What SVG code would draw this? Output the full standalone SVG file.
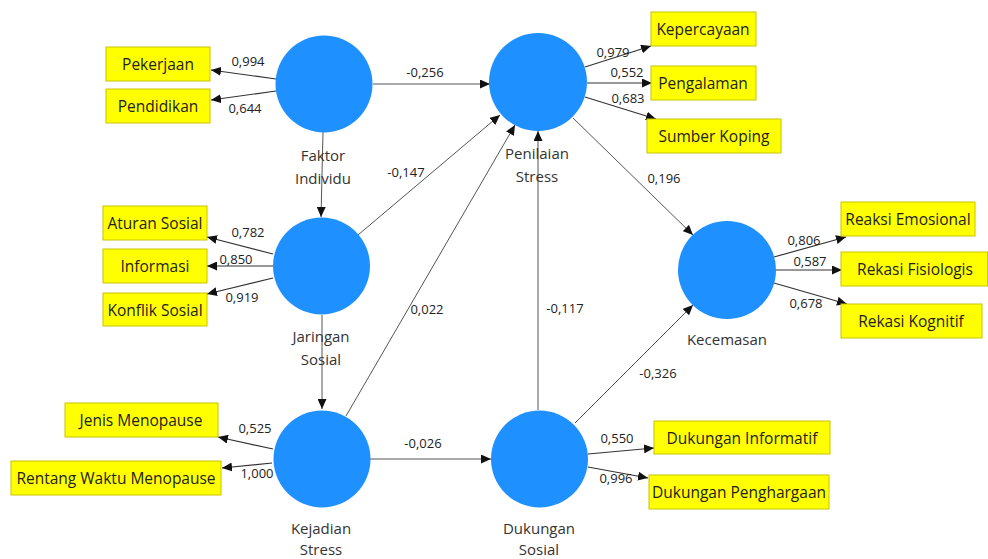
<svg xmlns="http://www.w3.org/2000/svg" width="988" height="559" viewBox="0 0 988 559">
  <style>
    .lv { fill: #1e90ff; }
    .ind rect { fill: #ffff00; stroke: #c8c400; stroke-width: 1; }
    .ind text { font-family: "Open Sans", "Noto Sans", sans-serif; font-size: 15.5px; fill: #222; text-anchor: middle; }
    .name { font-family: "Open Sans", "Noto Sans", sans-serif; font-size: 15px; fill: #333; text-anchor: middle; }
    .coef { font-family: "Open Sans", "Noto Sans", sans-serif; font-size: 13px; fill: #222; text-anchor: middle; }
    .path { stroke: #555; stroke-width: 1; fill: none; marker-end: url(#arr); }
    .load { stroke: #333; stroke-width: 1.2; fill: none; marker-end: url(#arr); }
  </style>
  <defs>
    <marker id="arr" markerUnits="userSpaceOnUse" markerWidth="11" markerHeight="9" refX="10" refY="4.5" orient="auto">
      <path d="M0,0 L10,4.5 L0,9 z" fill="#111"/>
    </marker>
  </defs>
  <rect width="988" height="559" fill="#ffffff"/>

  <!-- connectors -->
  <g id="connectors">
    <!-- inner model -->
    <line class="path" x1="373" y1="84" x2="490" y2="84"/>
    <line class="path" x1="323" y1="132" x2="321" y2="217"/>
    <line class="path" x1="358" y1="235" x2="500" y2="115"/>
    <line class="path" x1="322" y1="315" x2="322" y2="409"/>
    <line class="path" x1="346" y1="416" x2="515" y2="125"/>
    <line class="path" x1="370" y1="459" x2="491" y2="459"/>
    <line class="path" x1="538" y1="410" x2="538" y2="131"/>
    <line class="path" x1="573" y1="118" x2="693" y2="235"/>
    <line class="path" x1="575" y1="423" x2="693" y2="305"/>
    <!-- outer model -->
    <line class="load" x1="276" y1="79" x2="211" y2="70"/>
    <line class="load" x1="276" y1="91" x2="211" y2="100"/>
    <line class="load" x1="585" y1="67" x2="651" y2="46"/>
    <line class="load" x1="587" y1="83" x2="652" y2="83"/>
    <line class="load" x1="585" y1="97" x2="656" y2="119"/>
    <line class="load" x1="273" y1="254" x2="207" y2="237"/>
    <line class="load" x1="273" y1="266" x2="207" y2="266"/>
    <line class="load" x1="273" y1="278" x2="207" y2="294"/>
    <line class="load" x1="774" y1="257" x2="846" y2="237"/>
    <line class="load" x1="776" y1="270" x2="842" y2="270"/>
    <line class="load" x1="774" y1="283" x2="847" y2="304"/>
    <line class="load" x1="273" y1="449" x2="218" y2="437"/>
    <line class="load" x1="272" y1="463" x2="222" y2="468"/>
    <line class="load" x1="588" y1="454" x2="654" y2="448"/>
    <line class="load" x1="588" y1="467" x2="648" y2="478"/>

    <!-- coefficients -->
    <text class="coef" x="425" y="77">-0,256</text>
    <text class="coef" x="406" y="177">-0,147</text>
    <text class="coef" x="427" y="314">0,022</text>
    <text class="coef" x="664" y="183">0,196</text>
    <text class="coef" x="565" y="313">-0,117</text>
    <text class="coef" x="658" y="378">-0,326</text>
    <text class="coef" x="423" y="448">-0,026</text>

    <text class="coef" x="248" y="66">0,994</text>
    <text class="coef" x="245" y="113">0,644</text>
    <text class="coef" x="613" y="57">0,979</text>
    <text class="coef" x="627" y="77">0,552</text>
    <text class="coef" x="628" y="103">0,683</text>
    <text class="coef" x="248" y="237">0,782</text>
    <text class="coef" x="236" y="264">0,850</text>
    <text class="coef" x="242" y="302">0,919</text>
    <text class="coef" x="804" y="245">0,806</text>
    <text class="coef" x="810" y="266">0,587</text>
    <text class="coef" x="806" y="308">0,678</text>
    <text class="coef" x="255" y="433">0,525</text>
    <text class="coef" x="257" y="478">1,000</text>
    <text class="coef" x="617" y="443">0,550</text>
    <text class="coef" x="616" y="483">0,996</text>
  </g>

  <!-- latent variables -->
  <g id="faktor-individu">
    <circle class="lv" cx="324" cy="84" r="48.5"/>
    <text class="name" x="323" y="161">Faktor</text>
    <text class="name" x="323" y="184">Individu</text>
  </g>
  <g id="penilaian-stress">
    <circle class="lv" cx="538" cy="82" r="49"/>
    <text class="name" x="537" y="159">Penilaian</text>
    <text class="name" x="537" y="182">Stress</text>
  </g>
  <g id="jaringan-sosial">
    <circle class="lv" cx="321.5" cy="266" r="48.5"/>
    <text class="name" x="321" y="342">Jaringan</text>
    <text class="name" x="321" y="365">Sosial</text>
  </g>
  <g id="kecemasan">
    <circle class="lv" cx="727" cy="270" r="49"/>
    <text class="name" x="727" y="345">Kecemasan</text>
  </g>
  <g id="kejadian-stress">
    <circle class="lv" cx="322" cy="459" r="48.5"/>
    <text class="name" x="321" y="534">Kejadian</text>
    <text class="name" x="321" y="555">Stress</text>
  </g>
  <g id="dukungan-sosial">
    <circle class="lv" cx="539.5" cy="459" r="48.5"/>
    <text class="name" x="539" y="534">Dukungan</text>
    <text class="name" x="539" y="555">Sosial</text>
  </g>

  <!-- indicators -->
  <g id="pekerjaan" class="ind"><rect x="106" y="47" width="104" height="34"/><text x="158" y="69.5">Pekerjaan</text></g>
  <g id="pendidikan" class="ind"><rect x="106" y="89" width="104" height="34"/><text x="158" y="111.5">Pendidikan</text></g>
  <g id="kepercayaan" class="ind"><rect x="651" y="12" width="105" height="34"/><text x="703" y="34.5">Kepercayaan</text></g>
  <g id="pengalaman" class="ind"><rect x="651" y="66" width="105" height="34"/><text x="703" y="88.5">Pengalaman</text></g>
  <g id="sumber-koping" class="ind"><rect x="647" y="119" width="134" height="34"/><text x="714" y="141.5">Sumber Koping</text></g>
  <g id="aturan-sosial" class="ind"><rect x="103" y="206" width="104" height="34"/><text x="155" y="228.5">Aturan Sosial</text></g>
  <g id="informasi" class="ind"><rect x="103" y="249" width="104" height="34"/><text x="155" y="271.5">Informasi</text></g>
  <g id="konflik-sosial" class="ind"><rect x="103" y="293" width="104" height="33"/><text x="155" y="315.5">Konflik Sosial</text></g>
  <g id="reaksi-emosional" class="ind"><rect x="841" y="202" width="134" height="34"/><text x="908" y="224.5">Reaksi Emosional</text></g>
  <g id="rekasi-fisiologis" class="ind"><rect x="841" y="252" width="146.5" height="34"/><text x="915" y="274.5">Rekasi Fisiologis</text></g>
  <g id="rekasi-kognitif" class="ind"><rect x="841" y="304" width="141" height="34"/><text x="911" y="326.5">Rekasi Kognitif</text></g>
  <g id="jenis-menopause" class="ind"><rect x="65" y="403" width="153" height="34"/><text x="141" y="425.5">Jenis Menopause</text></g>
  <g id="rentang-waktu-menopause" class="ind"><rect x="11" y="461" width="210" height="34"/><text x="116" y="483.5">Rentang Waktu Menopause</text></g>
  <g id="dukungan-informatif" class="ind"><rect x="654" y="421" width="176" height="33"/><text x="742" y="443.5">Dukungan Informatif</text></g>
  <g id="dukungan-penghargaan" class="ind"><rect x="649" y="475" width="180" height="34"/><text x="739" y="497.5">Dukungan Penghargaan</text></g>
</svg>
